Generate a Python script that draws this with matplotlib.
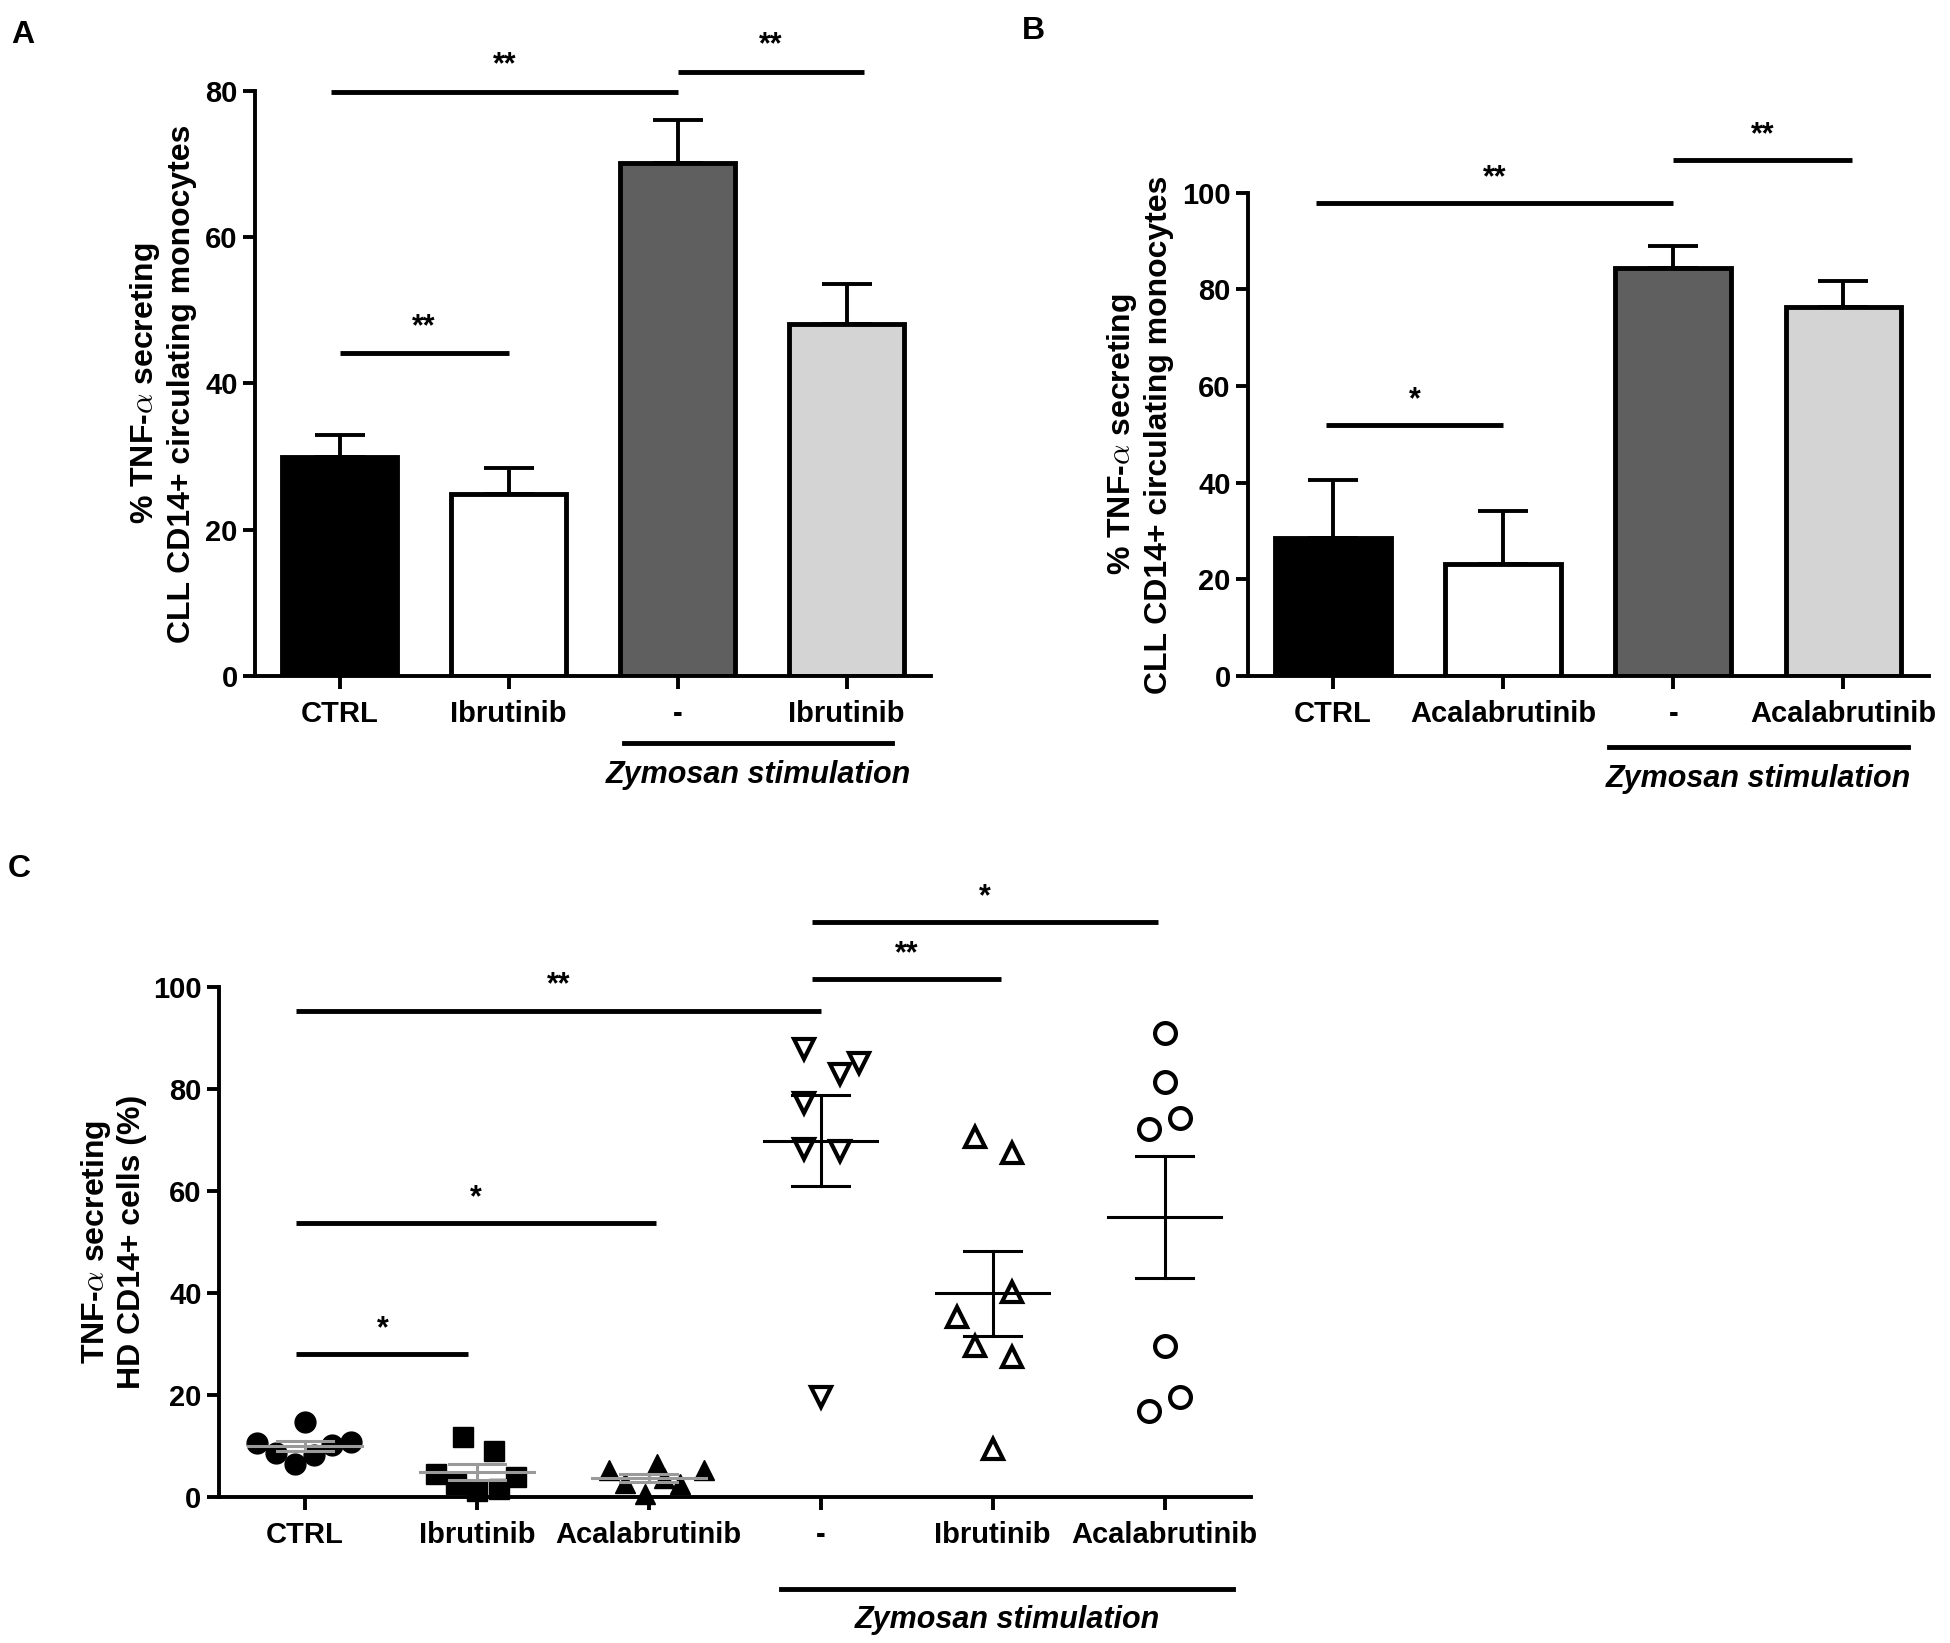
import matplotlib
matplotlib.use("Agg")
import matplotlib.pyplot as plt
import numpy as np
from matplotlib import transforms

plt.rcParams['font.family'] = ['Liberation Sans', 'DejaVu Sans']
plt.rcParams['font.weight'] = 'bold'
plt.rcParams['axes.labelweight'] = 'bold'
plt.rcParams['mathtext.fontset'] = 'cm'

# ---- data panel A ----
a_labels = ["CTRL", "Ibrutinib", "-", "Ibrutinib"]
a_mean = [30.0, 24.9, 70.1, 48.1]
a_sem = [2.9, 3.5, 6.0, 5.5]

# ---- data panel B ----
b_labels = ["CTRL", "Acalabrutinib", "-", "Acalabrutinib"]
b_mean = [28.5, 23.2, 84.5, 76.3]
b_sem = [12.0, 10.9, 4.5, 5.4]

# ---- data panel C ----
c_labels = ["CTRL", "Ibrutinib", "Acalabrutinib", "-", "Ibrutinib", "Acalabrutinib"]
c_ctrl = [14.6, 10.5, 8.6, 6.4, 8.3, 10.2, 10.8]
c_ibr = [11.8, 9.0, 4.5, 4.0, 2.5, 1.5, 1.2]
c_acala = [6.5, 5.2, 5.2, 2.8, 2.5, 0.5, 3.8]
c_zym = [87.8, 85.1, 82.9, 77.3, 68.3, 67.9, 19.5]
c_zym_ibr = [70.5, 67.5, 40.1, 35.3, 29.6, 27.4, 9.4]
c_zym_acala = [90.9, 81.4, 74.3, 72.2, 29.6, 19.5, 16.9]

# significance brackets: (x1, x2, y, text)
a_sig = [(0, 1, 44.1, "**"), (-0.05, 2, 79.9, "**"), (2, 3.1, 82.6, "**")]
b_sig = [(-0.04, 1, 52.0, "*"), (-0.1, 2, 97.9, "**"), (2, 3.05, 106.8, "**")]
c_sig = [(-0.05, 0.95, 28.0, "*"), (-0.05, 2.04, 53.7, "*"), (-0.05, 3.0, 95.3, "**"),
         (2.95, 4.05, 101.5, "**"), (2.95, 4.96, 112.7, "*")]

# jitter offsets for the scatter panel (layout only)
c_offsets = [[0, -0.28, -0.17, -0.06, 0.05, 0.16, 0.27],
             [-0.08, 0.1, -0.24, 0.23, -0.12, 0.13, 0.0],
             [0.05, -0.23, 0.32, -0.14, 0.18, -0.02, 0.09],
             [-0.1, 0.22, 0.11, -0.1, -0.1, 0.11, 0.0],
             [-0.1, 0.11, 0.11, -0.21, -0.1, 0.11, 0.0],
             [0, 0, 0.09, -0.09, 0, 0.09, -0.09]]

FS = 21
LW = 2.8


def style_axes(ax):
    for s in ['top', 'right']:
        ax.spines[s].set_visible(False)
    for s in ['left', 'bottom']:
        ax.spines[s].set_linewidth(LW)
    ax.tick_params(width=LW, length=9, labelsize=FS)
    ax.tick_params(axis='x', pad=8)
    for lab in ax.get_xticklabels() + ax.get_yticklabels():
        lab.set_fontweight('bold')


def sig(ax, x1, x2, y, txt, dy):
    ax.plot([x1, x2], [y, y], color='black', lw=3.5, clip_on=False, solid_capstyle='butt')
    ax.text((x1 + x2) / 2, y + dy, txt, ha='center', va='bottom', fontsize=22,
            fontweight='bold', clip_on=False)


def zymosan(ax, x1, x2, yline, ytext):
    tr = transforms.blended_transform_factory(ax.transData, ax.transAxes)
    ax.plot([x1, x2], [yline, yline], color='black', lw=3.5, transform=tr, clip_on=False)
    ax.text((x1 + x2) / 2, ytext, "Zymosan stimulation", transform=tr, ha='center',
            va='center', fontsize=22, fontstyle='italic', fontweight='bold')


def bar_panel(ax, labels, mean, sem, ymax, ystep, sigs, dy, zym):
    colors = ['black', 'white', '#5f5f5f', '#d4d4d4']
    x = np.arange(len(labels))
    ax.errorbar(x, mean, yerr=[np.zeros(len(sem)), sem], fmt='none', ecolor='black',
                elinewidth=LW, capsize=18, capthick=LW, zorder=1)
    ax.bar(x, mean, width=0.68, color=colors, edgecolor='black', linewidth=3.5, zorder=2)
    ax.set_xlim(-0.5, 3.5)
    ax.set_ylim(0, ymax)
    ax.set_yticks(np.arange(0, ymax + 1, ystep))
    ax.set_xticks(x)
    ax.set_xticklabels(labels)
    ax.set_ylabel("% TNF-$\\alpha$ secreting\nCLL CD14+ circulating monocytes",
                  fontsize=23, labelpad=6)
    style_axes(ax)
    for s in sigs:
        sig(ax, *s, dy)
    zymosan(ax, *zym)


fig = plt.figure(figsize=(19.5, 16.43), dpi=100)

axA = fig.add_axes([0.1308, 0.5886, 0.3467, 0.356])
bar_panel(axA, a_labels, a_mean, a_sem, 80, 20, a_sig, 1.6, (1.68, 3.27, -0.115, -0.169))

axB = fig.add_axes([0.64, 0.5886, 0.349, 0.294])
bar_panel(axB, b_labels, b_mean, b_sem, 100, 20, b_sig, 2.0, (1.62, 3.38, -0.147, -0.213))

axC = fig.add_axes([0.1123, 0.0889, 0.529, 0.3104])
groups = [c_ctrl, c_ibr, c_acala, c_zym, c_zym_ibr, c_zym_acala]
markers = ['o', 's', '^', 'v', '^', 'o']
filled = [True, True, True, False, False, False]
for i, (vals, off, m, f) in enumerate(zip(groups, c_offsets, markers, filled)):
    vals = np.array(vals)
    xs = i + np.array(off)
    if f:
        axC.plot(xs, vals, m, ms=15, color='black', mec='black', zorder=2, clip_on=False)
    else:
        axC.plot(xs, vals, m, ms=15, mfc='white', mec='black', mew=3, zorder=2, clip_on=False)
    mu = vals.mean()
    se = vals.std(ddof=1) / np.sqrt(len(vals))
    lc = '#9a9a9a' if f else 'black'
    axC.plot([i - 0.33, i + 0.33], [mu, mu], color=lc, lw=2.2, zorder=3)
    axC.plot([i, i], [mu - se, mu + se], color=lc, lw=2.2, zorder=3)
    axC.plot([i - 0.165, i + 0.165], [mu + se, mu + se], color=lc, lw=2.2, zorder=3)
    axC.plot([i - 0.165, i + 0.165], [mu - se, mu - se], color=lc, lw=2.2, zorder=3)

axC.set_xlim(-0.5, 5.5)
axC.set_ylim(0, 100)
axC.set_yticks(np.arange(0, 101, 20))
axC.set_xticks(np.arange(len(c_labels)))
axC.set_xticklabels(c_labels)
axC.set_ylabel("TNF-$\\alpha$ secreting\nHD CD14+ cells (%)", fontsize=23, labelpad=4)
style_axes(axC)
for s in c_sig:
    sig(axC, *s, 2.0)
zymosan(axC, 2.77, 5.4, -0.18, -0.241)

fig.text(0.006, 0.988, "A", fontsize=23, fontweight='bold', va='top')
fig.text(0.524, 0.99, "B", fontsize=23, fontweight='bold', va='top')
fig.text(0.004, 0.48, "C", fontsize=23, fontweight='bold', va='top')

fig.savefig("out.png", dpi=100)
